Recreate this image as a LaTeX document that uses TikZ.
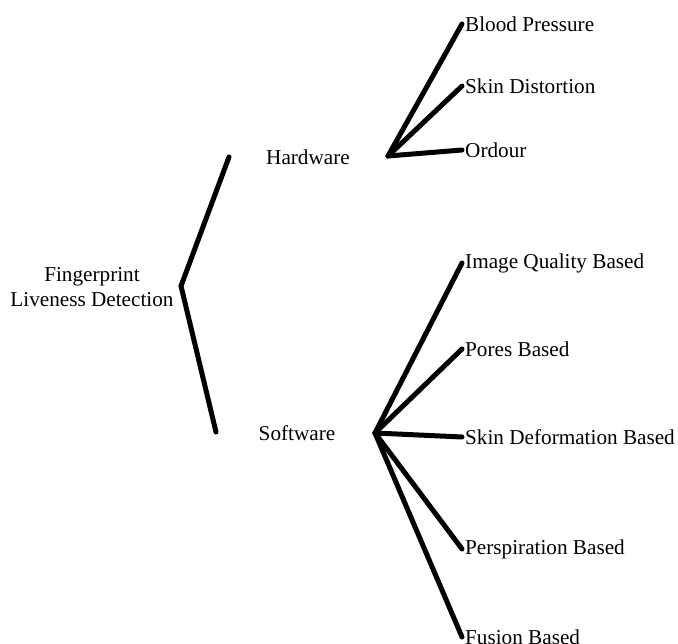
\documentclass[tikz,border=0pt]{standalone}
\usepackage{fontspec}
\setmainfont{Liberation Serif}
\begin{document}
\begin{tikzpicture}[x=1pt,y=-1pt,
  lbl/.style={font=\fontsize{21.2}{24.5}\selectfont, inner sep=0pt, align=center},
  leaf/.style={lbl, anchor=west, inner xsep=3pt},
  branch/.style={line width=5pt, line cap=round}]
\useasboundingbox (0,0) rectangle (678,644);
% root
\node[lbl] (root) at (92,287) {Fingerprint\\Liveness Detection};
\coordinate (rv) at (181,286);
\coordinate (rt) at (229,157);
\coordinate (rb) at (216,432);
\draw[branch] (rt) -- (rv) -- (rb);
% middle
\node[lbl] (hw) at (308,157) {Hardware};
\node[lbl] (sw) at (297,433) {Software};
% hardware fan
\coordinate (hv) at (388,156);
\node[leaf] (bp) at (462,24) {Blood Pressure};
\node[leaf] (sd) at (462,86) {Skin Distortion};
\node[leaf] (od) at (462,150) {Ordour};
\foreach \n in {bp,sd,od} \draw[branch] (hv) -- (\n.west);
% software fan
\coordinate (sv) at (375,433);
\node[leaf] (iq) at (462,263) {Image Quality Based};
\node[leaf] (pb) at (462,349) {Pores Based};
\node[leaf] (sdb) at (462,437) {Skin Deformation Based};
\node[leaf] (pe) at (462,549) {Perspiration Based};
\node[leaf] (fb) at (462,637) {Fusion Based};
\foreach \n in {iq,pb,sdb,pe,fb} \draw[branch] (sv) -- (\n.west);
\end{tikzpicture}
\end{document}
